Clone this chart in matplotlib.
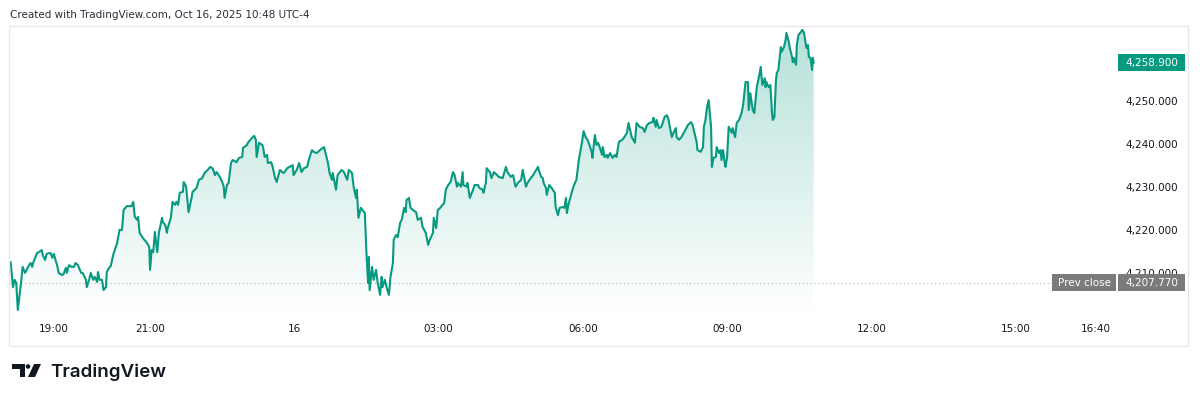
import numpy as np
import matplotlib
matplotlib.use("Agg")
import matplotlib.pyplot as plt
from matplotlib.patches import Rectangle, Polygon, Circle
from matplotlib.ticker import FuncFormatter

# minutes after 18:00 (Oct 15) and price
minutes = [6, 9, 11, 13, 15, 19, 21, 24, 26, 29, 31, 33, 34, 39, 41, 45, 46, 49, 51, 54,
           56, 58, 60, 62, 64, 66, 70, 72, 75, 76, 79, 82, 85, 87, 90, 94, 96, 100, 101, 104,
           106, 109, 111, 114, 115, 117, 120, 122, 125, 126, 129, 131, 134, 139, 140, 142, 145, 147, 151, 157,
           159, 161, 164, 165, 167, 171, 176, 179, 180, 182, 184, 186, 189, 191, 195, 196, 199, 201, 202, 206,
           208, 211, 213, 215, 217, 221, 222, 225, 226, 228, 232, 233, 238, 241, 245, 248, 252, 255, 258, 261,
           263, 267, 270, 272, 273, 276, 278, 281, 283, 288, 291, 295, 296, 301, 302, 307, 310, 312, 313, 316,
           320, 321, 323, 326, 327, 331, 333, 336, 338, 342, 346, 348, 351, 354, 358, 359, 363, 366, 369, 372,
           376, 378, 382, 384, 388, 392, 397, 399, 402, 404, 407, 408, 412, 414, 419, 422, 426, 428, 432, 434,
           437, 438, 440, 443, 445, 448, 450, 452, 453, 454, 457, 459, 462, 464, 467, 469, 470, 473, 475, 478,
           480, 483, 484, 487, 489, 492, 494, 497, 499, 500, 503, 505, 508, 512, 514, 518, 520, 524, 527, 529,
           533, 534, 537, 539, 542, 545, 547, 549, 552, 555, 558, 560, 563, 564, 568, 570, 571, 575, 576, 579,
           583, 585, 589, 591, 595, 596, 599, 600, 604, 606, 609, 613, 615, 620, 624, 626, 630, 633, 636, 639,
           643, 645, 649, 651, 655, 658, 663, 664, 665, 668, 670, 671, 674, 675, 678, 681, 685, 686, 689, 691,
           695, 697, 699, 700, 702, 706, 709, 712, 715, 719, 721, 724, 726, 729, 731, 732, 735, 737, 739, 741,
           744, 745, 747, 750, 751, 754, 757, 760, 762, 765, 769, 771, 775, 777, 781, 785, 787, 791, 795, 797,
           800, 803, 807, 808, 811, 812, 815, 818, 820, 822, 825, 827, 831, 833, 836, 837, 840, 843, 846, 848,
           851, 855, 857, 860, 862, 863, 867, 870, 871, 873, 875, 877, 880, 881, 883, 886, 887, 890, 892, 893,
           895, 897, 898, 900, 902, 906, 907, 910, 912, 915, 918, 920, 923, 926, 927, 929, 932, 934, 937, 939,
           942, 943, 944, 947, 948, 949, 952, 954, 956, 957, 959, 961, 962, 964, 967, 968, 971, 973, 974, 977,
           978, 981, 982, 983, 986, 987, 989, 992, 994, 996, 997, 999, 1001, 1002, 1004, 1006, 1007, 1008]
prices = [4212.6, 4206.8, 4208.5, 4207.8, 4201.5, 4207.8, 4211.5, 4210.1, 4210.8, 4211.9,
          4212.4, 4211.5, 4212.4, 4214.7, 4214.9, 4215.4, 4214.3, 4213.1, 4214.5, 4214.7,
          4214.7, 4213.6, 4214.5, 4213.1, 4211.9, 4210.1, 4209.6, 4209.8, 4211.3, 4210.1,
          4211.9, 4211.5, 4211.5, 4212.4, 4211.9, 4210.1, 4210.1, 4208.5, 4206.8, 4208.5,
          4210.1, 4208.5, 4209.2, 4208.0, 4210.3, 4208.5, 4208.5, 4206.1, 4206.8, 4210.3,
          4211.3, 4211.7, 4214.3, 4217.1, 4218.2, 4220.1, 4220.1, 4224.7, 4225.6, 4225.6,
          4226.6, 4223.1, 4222.4, 4223.1, 4219.4, 4218.2, 4217.1, 4216.1, 4210.8, 4215.4,
          4214.9, 4219.6, 4214.9, 4219.4, 4222.9, 4221.9, 4221.2, 4219.4, 4220.5, 4222.9,
          4226.6, 4225.9, 4226.6, 4225.9, 4228.7, 4228.9, 4231.2, 4230.1, 4228.2, 4224.2,
          4227.7, 4228.9, 4229.8, 4231.7, 4232.1, 4233.3, 4234.0, 4234.7, 4234.4, 4232.8,
          4233.5, 4232.4, 4231.2, 4230.1, 4227.5, 4230.5, 4231.0, 4235.6, 4236.3, 4235.8,
          4236.8, 4237.0, 4239.1, 4239.8, 4240.3, 4241.4, 4241.9, 4241.0, 4237.0, 4240.3,
          4239.8, 4239.3, 4237.0, 4237.5, 4235.6, 4235.8, 4234.7, 4232.1, 4231.2, 4234.0,
          4233.3, 4233.5, 4234.4, 4234.7, 4235.1, 4232.8, 4234.0, 4235.6, 4233.5, 4234.4,
          4234.7, 4236.3, 4238.6, 4238.2, 4237.9, 4238.6, 4239.3, 4237.9, 4235.6, 4233.3,
          4231.7, 4233.3, 4229.4, 4232.8, 4234.0, 4233.5, 4231.7, 4234.0, 4233.3, 4230.1,
          4227.5, 4229.4, 4222.9, 4225.2, 4224.7, 4224.0, 4214.7, 4207.8, 4213.8, 4206.1,
          4211.5, 4208.5, 4210.8, 4207.8, 4205.0, 4209.2, 4206.8, 4208.5, 4206.8, 4205.0,
          4209.2, 4212.4, 4217.8, 4218.9, 4218.4, 4221.7, 4222.4, 4225.2, 4224.2, 4227.0,
          4227.5, 4225.2, 4224.7, 4224.2, 4222.4, 4222.9, 4220.8, 4219.4, 4216.6, 4217.8,
          4219.4, 4222.9, 4220.5, 4224.7, 4225.2, 4225.9, 4226.3, 4229.4, 4230.5, 4231.2,
          4233.5, 4232.8, 4230.1, 4231.0, 4230.1, 4233.5, 4230.5, 4230.1, 4231.0, 4227.5,
          4229.4, 4230.5, 4230.5, 4229.8, 4229.4, 4228.7, 4231.0, 4234.4, 4233.5, 4232.1,
          4233.5, 4232.8, 4232.4, 4232.1, 4234.7, 4233.5, 4232.4, 4232.8, 4230.1, 4231.0,
          4231.7, 4234.0, 4230.1, 4231.0, 4232.1, 4232.8, 4234.4, 4234.7, 4234.0, 4232.4,
          4232.1, 4231.0, 4229.8, 4228.2, 4230.5, 4229.8, 4228.7, 4225.4, 4223.5, 4225.2,
          4225.4, 4225.2, 4227.5, 4224.0, 4225.9, 4228.7, 4230.5, 4231.7, 4236.3, 4240.5,
          4243.0, 4241.4, 4241.0, 4239.3, 4238.2, 4236.8, 4242.1, 4239.8, 4240.3, 4239.3,
          4237.5, 4239.3, 4237.0, 4237.5, 4236.8, 4237.9, 4236.8, 4237.5, 4237.0, 4240.5,
          4241.0, 4241.4, 4242.6, 4244.9, 4241.6, 4240.3, 4244.9, 4244.0, 4243.7, 4242.8,
          4244.4, 4244.9, 4245.1, 4246.1, 4244.0, 4245.6, 4243.7, 4244.0, 4245.1, 4246.3,
          4246.7, 4245.6, 4241.6, 4242.6, 4243.7, 4241.6, 4241.0, 4241.6, 4242.6, 4243.3,
          4244.4, 4245.1, 4244.4, 4242.1, 4240.5, 4238.6, 4238.2, 4239.3, 4244.0, 4245.6,
          4248.6, 4250.2, 4244.0, 4234.7, 4236.8, 4237.0, 4239.3, 4237.9, 4238.6, 4236.3,
          4238.6, 4235.6, 4234.7, 4237.0, 4244.0, 4242.6, 4243.7, 4241.6, 4244.9, 4245.6,
          4247.2, 4249.1, 4254.4, 4254.4, 4247.9, 4251.8, 4247.9, 4247.2, 4253.2, 4254.9,
          4257.9, 4255.6, 4253.7, 4255.3, 4253.2, 4254.4, 4253.2, 4253.7, 4247.2, 4245.6,
          4246.3, 4254.9, 4256.5, 4257.2, 4262.5, 4261.4, 4262.5, 4264.2, 4265.8, 4263.7,
          4262.5, 4260.2, 4259.0, 4260.0, 4258.4, 4263.0, 4265.3, 4266.0, 4266.5, 4265.8,
          4264.6, 4262.3, 4263.0, 4260.2, 4260.0, 4257.2, 4260.0, 4258.9]

prev_close = 4207.77
last_price = prices[-1]
price_ticks = [4210, 4220, 4230, 4240, 4250, 4260]
time_ticks = [60, 180, 360, 540, 720, 900, 1080, 1260, 1360]
time_labels = ["19:00", "21:00", "16", "03:00", "06:00", "09:00", "12:00", "15:00", "16:40"]

GREEN = "#089981"
TEXT = "#131722"

W, H = 1200, 401
fig = plt.figure(figsize=(W / 100, H / 100), dpi=100)
fig.patch.set_facecolor("white")

# chart pane: x 9..1115 px, y 26..316 px (from top)
ax = fig.add_axes([9 / W, 1 - 316 / H, (1115 - 9) / W, (316 - 26) / H])
ax.set_facecolor("white")
xmin, xmax = 4, 1384
ymin, ymax = 4200.1, 4267.4
ax.set_xlim(xmin, xmax)
ax.set_ylim(ymin, ymax)

# gradient area under the line
fill = ax.fill_between(minutes, prices, ymin, color="none", lw=0)
grad = np.zeros((256, 1, 4))
grad[..., 0] = 8 / 255
grad[..., 1] = 153 / 255
grad[..., 2] = 129 / 255
grad[..., 3] = np.linspace(0.0, 0.30, 256).reshape(-1, 1)
im = ax.imshow(grad, extent=[xmin, xmax, ymin, ymax], origin="lower", aspect="auto", zorder=1)
im.set_clip_path(fill.get_paths()[0], transform=ax.transData)

ax.axhline(prev_close, color="#B2B5BE", lw=0.8, linestyle=(0, (1, 2.5)), zorder=1.5)
ax.plot(minutes, prices, color=GREEN, lw=1.5, zorder=2, solid_joinstyle="round")

for s in ax.spines.values():
    s.set_visible(False)
ax.set_xticks(time_ticks)
ax.set_xticklabels(time_labels)
ax.yaxis.tick_right()
ax.set_yticks(price_ticks)
ax.yaxis.set_major_formatter(FuncFormatter(lambda v, p: f"{v:,.3f}"))
ax.tick_params(axis="x", length=0, pad=6, labelsize=7.5, labelcolor=TEXT)
ax.tick_params(axis="y", length=0, pad=7.5, labelsize=7.5, labelcolor=TEXT)

# pane border, drawn over the axes background
fig.add_artist(Rectangle((9, H - 346), 1179, 320, transform=None, fill=False,
                         edgecolor="#E6E8EE", lw=1, zorder=0.5))

fig.canvas.draw()
to_px = ax.transData.transform

# last price tag
yl = to_px((0, last_price))[1]
fig.add_artist(Rectangle((1118, yl - 8.5), 67, 17, transform=None, facecolor=GREEN,
                         edgecolor="none", zorder=5))
fig.text(1178 / W, yl / H, f"{last_price:,.3f}", ha="right", va="center", color="white",
         fontsize=7.5, zorder=6)

# prev close tags
yp = to_px((0, prev_close))[1]
fig.add_artist(Rectangle((1052, yp - 8.5), 64, 17, transform=None, facecolor="#7B7B7B",
                         edgecolor="none", zorder=5))
fig.add_artist(Rectangle((1118, yp - 8.5), 67, 17, transform=None, facecolor="#7B7B7B",
                         edgecolor="none", zorder=5))
fig.text(1084 / W, yp / H, "Prev close", ha="center", va="center", color="white",
         fontsize=7.5, zorder=6)
fig.text(1178 / W, yp / H, f"{prev_close:,.3f}", ha="right", va="center", color="white",
         fontsize=7.5, zorder=6)

# header
fig.text(10 / W, 1 - 15 / H, "Created with TradingView.com, Oct 16, 2025 10:48 UTC-4",
         ha="left", va="center", color="#2A2E39", fontsize=7.5)

# logo
fig.add_artist(Polygon([(12, H - 364), (25, H - 364), (25, H - 377), (19.5, H - 377),
                        (19.5, H - 369), (12, H - 369)], closed=True, transform=None,
                       facecolor=TEXT, edgecolor="none"))
fig.add_artist(Circle((28, H - 366.5), 2.3, transform=None, facecolor=TEXT, edgecolor="none"))
fig.add_artist(Polygon([(34, H - 364), (41, H - 364), (35, H - 377), (28, H - 377)],
                       closed=True, transform=None, facecolor=TEXT, edgecolor="none"))
fig.text(50 / W, 1 - 377 / H, "TradingView", ha="left", va="baseline", color=TEXT,
         fontsize=13.5, family="Inter", fontweight="semibold")

fig.savefig("out.png", dpi=100, facecolor="white")
